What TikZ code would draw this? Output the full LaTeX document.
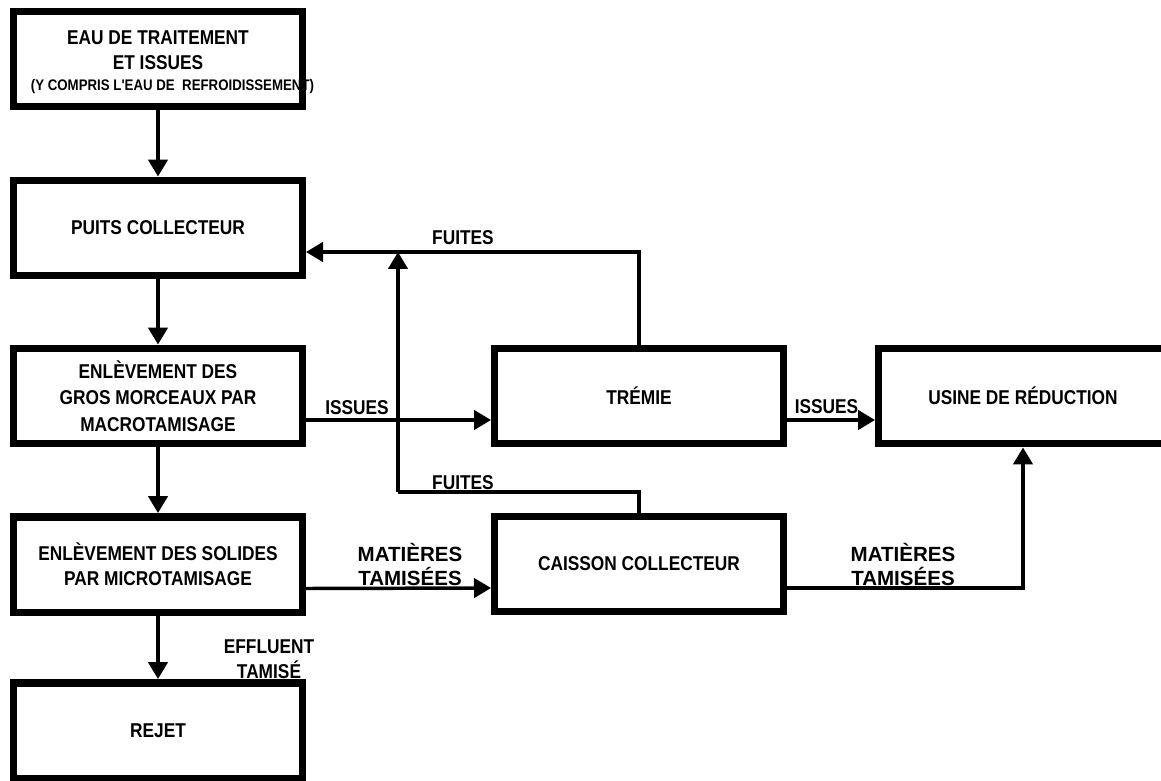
\documentclass[tikz,border=0pt]{standalone}
\usepackage{fontspec}
\setmainfont{Liberation Sans}
\newfontfamily\condsans{Liberation Sans}[FakeStretch=0.865]
\usetikzlibrary{arrows.meta,calc}
\begin{document}
\begin{tikzpicture}[x=0.75pt,y=-0.75pt,
  box/.style={draw=black,line width=5.6pt,minimum width=216.4pt,minimum height=71.6pt,inner sep=0pt,align=center,
    font=\condsans\bfseries\fontsize{15}{18.5}\selectfont},
  boxtxt/.style={inner sep=0pt,align=center,font=\condsans\bfseries\fontsize{15}{18.5}\selectfont},
  smalltxt/.style={inner sep=0pt,font=\condsans\bfseries\fontsize{11.5}{14}\selectfont},
  lbl/.style={inner sep=0pt,align=center,font=\condsans\bfseries\fontsize{15}{18.75}\selectfont},
  widelbl/.style={inner sep=0pt,align=center,font=\bfseries\fontsize{15.4}{18}\selectfont},
  flow/.style={draw=black,line width=2.6pt,-{Triangle[length=12.75pt,width=14.5pt]}},
  pipe/.style={draw=black,line width=2.6pt}]

\fill[white] (0,0) rectangle (1161,781);
\useasboundingbox (0,0) rectangle (1161,781);

% first box: text set first so that the frame lies over it
\node[boxtxt] (b1a) at (158,50) {EAU DE TRAITEMENT\\ET ISSUES};
\node[smalltxt] (b1b) at (172.5,87) {(Y COMPRIS L'EAU DE~ REFROIDISSEMENT)};
\node[box] (b1) at (158,59) {};

% left column
\node[box] (b2) at (158,228) {PUITS COLLECTEUR};
\node[box,font=\condsans\bfseries\fontsize{15}{19.8}\selectfont] (b3) at (158,396)
  {ENLÈVEMENT DES\\GROS MORCEAUX PAR\\MACROTAMISAGE};
\node[box] (b4) at (158,564.5) {ENLÈVEMENT DES SOLIDES\\PAR MICROTAMISAGE};
\node[box] (b5) at (158,730.5) {REJET};

% middle and right
\node[box] (tremie) at (639,396) {TRÉMIE};
\node[box] (usine) at (1023,396) {USINE DE RÉDUCTION};
\node[box] (caisson) at (639,564) {CAISSON COLLECTEUR};

% vertical flow down the left column
\draw[flow] (b1.south) -- (b2.north);
\draw[flow] (b2.south) -- (b3.north);
\draw[flow] (b3.south) -- (b4.north);
\draw[flow] (b4.south) -- (b5.north);

% screenings
\draw[flow] ($(b3.east)+(0,24)$) -- ($(tremie.west)+(0,24)$);
\draw[flow] ($(tremie.east)+(0,24)$) -- ($(usine.west)+(0,24)$);
\draw[flow] ($(b4.east)+(0,24)$) -- ($(caisson.west)+(0,24)$);
\draw[flow] ($(caisson.east)+(0,24)$) -| (usine.south);

% leaks back to the collecting well
\coordinate (jn) at (398,252);
\coordinate (fk) at (398,492);
\draw[flow] (tremie.north) |- ($(b2.east)+(0,24)$);
\draw[pipe] (caisson.north) |- (fk);
\draw[flow] (fk) -- (jn);

% labels
\node[lbl] (l1) at (463,238) {FUITES};
\node[lbl] (l2) at (463,483) {FUITES};
\node[lbl] (l3) at (357,408) {ISSUES};
\node[lbl] (l4) at (826.5,407) {ISSUES};
\node[widelbl] (l5) at (410,564) {MATIÈRES\\TAMISÉES};
\node[widelbl] (l6) at (903,564) {MATIÈRES\\TAMISÉES};
\node[lbl] (l7) at (269,659.5) {EFFLUENT\\TAMISÉ};
\end{tikzpicture}
\end{document}
